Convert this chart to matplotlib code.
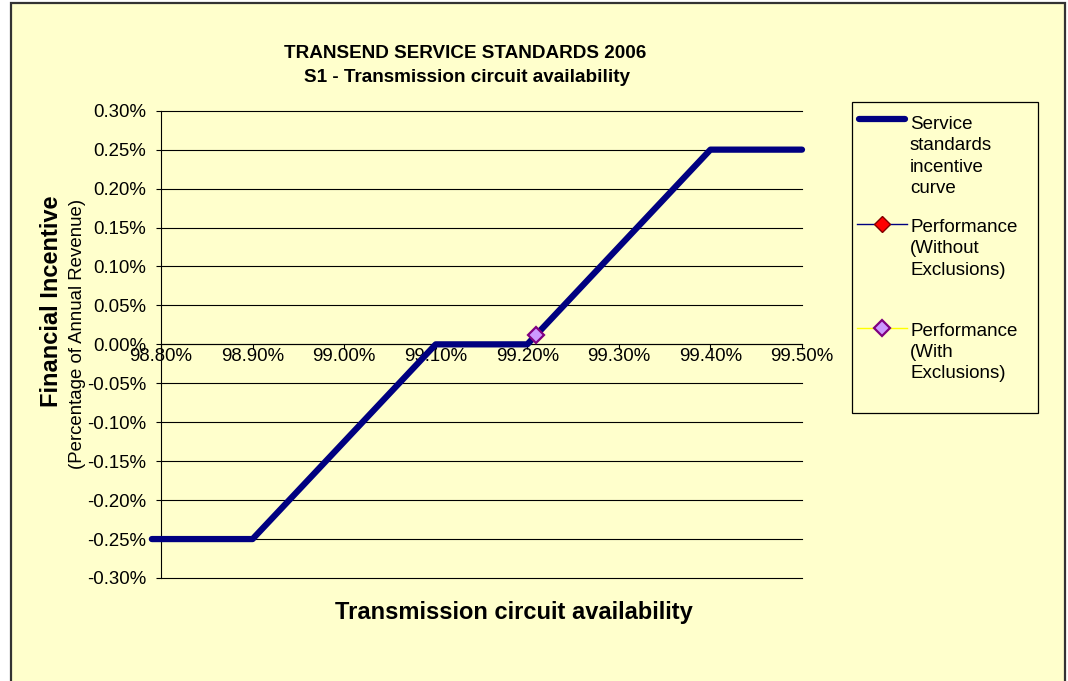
import matplotlib.pyplot as plt
import numpy as np
from matplotlib.patches import Rectangle
from matplotlib.lines import Line2D
from matplotlib.ticker import FuncFormatter

plt.rcParams['font.family'] = ['Liberation Sans', 'DejaVu Sans']

# incentive curve (availability %, incentive % of revenue)
curve_x = [98.79, 98.90, 99.10, 99.20, 99.40, 99.50]
curve_y = [-0.25, -0.25, 0.00, 0.00, 0.25, 0.25]

# performance points
perf_without_x = []
perf_without_y = []
perf_with_x = [99.209]
perf_with_y = [0.0115]

x_ticks = [98.80, 98.90, 99.00, 99.10, 99.20, 99.30, 99.40, 99.50]
y_ticks = [-0.30, -0.25, -0.20, -0.15, -0.10, -0.05, 0.00, 0.05, 0.10, 0.15, 0.20, 0.25, 0.30]

W, H = 1068, 681
fig = plt.figure(figsize=(W / 100, H / 100), dpi=100, facecolor='white')

# chart area background with frame (no bottom edge visible)
fig.patches.append(Rectangle((11 / W, -0.05), (1065 - 11) / W, (H - 3) / H + 0.05,
                             transform=fig.transFigure, facecolor='#FFFFCC',
                             edgecolor='#333333', linewidth=1.6, zorder=0))

ax = fig.add_axes([161 / W, (H - 578) / H, (802 - 161) / W, (578 - 110.7) / H])
ax.set_facecolor('none')
ax.set_zorder(3)

ax.plot(curve_x, curve_y, color='#000080', linewidth=4.5, solid_capstyle='round',
        clip_on=False, zorder=3)
ax.plot(perf_without_x, perf_without_y, color='#000080', linewidth=1, marker='D',
        markersize=8, markerfacecolor='#FF0000', markeredgecolor='#800000', zorder=4)
ax.plot(perf_with_x, perf_with_y, color='#FFFF00', linewidth=1, marker='D',
        markersize=8, markerfacecolor='#CC99FF', markeredgecolor='#800080',
        markeredgewidth=1.6, zorder=5, clip_on=False)

ax.set_xlim(98.80, 99.50)
ax.set_ylim(-0.30, 0.30)
ax.set_xticks(x_ticks)
ax.set_yticks(y_ticks)
pct = FuncFormatter(lambda v, p: '%.2f%%' % v)
ax.xaxis.set_major_formatter(pct)
ax.yaxis.set_major_formatter(pct)

ax.yaxis.grid(True, color='black', linewidth=0.8)
for gl in ax.get_ygridlines():
    gl.set_clip_on(False)
ax.set_axisbelow(True)
for s in ['top', 'right']:
    ax.spines[s].set_visible(False)
ax.spines['bottom'].set_position(('data', 0))
ax.spines['left'].set_linewidth(0.8)
ax.spines['bottom'].set_linewidth(0.8)
ax.tick_params(axis='y', direction='out', length=3.6, width=0.8, pad=7, labelsize=13.4)
ax.tick_params(axis='x', direction='out', length=3.6, width=0.8, pad=-1, labelsize=13.4)

fig.text(465 / W, 1 - 54 / H, 'TRANSEND SERVICE STANDARDS 2006', ha='center', va='center',
         fontsize=13.6, fontweight='bold')
fig.text(467 / W, 1 - 77 / H, 'S1 - Transmission circuit availability', ha='center', va='center',
         fontsize=13.6, fontweight='bold')
fig.text(514 / W, 1 - 613 / H, 'Transmission circuit availability', ha='center', va='center',
         fontsize=17, fontweight='bold')
fig.text(52 / W, 1 - 301 / H, 'Financial Incentive', ha='center', va='center', rotation=90,
         fontsize=17, fontweight='bold')
fig.text(78 / W, 1 - 334 / H, '(Percentage of Annual Revenue)', ha='center', va='center',
         rotation=90, fontsize=13.4)

# legend box drawn by hand so the handles sit on the first text line
fig.patches.append(Rectangle((852 / W, 1 - 413 / H), (1038 - 852) / W, (413 - 102) / H,
                             transform=fig.transFigure, facecolor='#FFFFCC',
                             edgecolor='black', linewidth=0.9, zorder=2))
fig.lines.append(Line2D([859 / W, 905 / W], [1 - 119 / H, 1 - 119 / H], transform=fig.transFigure,
                        color='#000080', linewidth=4.5, solid_capstyle='round', zorder=3))
fig.lines.append(Line2D([857 / W, 907 / W], [1 - 224 / H, 1 - 224 / H], transform=fig.transFigure,
                        color='#000080', linewidth=1, zorder=3))
fig.lines.append(Line2D([882 / W], [1 - 224 / H], transform=fig.transFigure, marker='D',
                        markersize=8, markerfacecolor='#FF0000', markeredgecolor='#800000',
                        zorder=4))
fig.lines.append(Line2D([857 / W, 907 / W], [1 - 328 / H, 1 - 328 / H], transform=fig.transFigure,
                        color='#FFFF00', linewidth=1, zorder=3))
fig.lines.append(Line2D([882 / W], [1 - 328 / H], transform=fig.transFigure, marker='D',
                        markersize=8, markerfacecolor='#CC99FF', markeredgecolor='#800080',
                        markeredgewidth=1.6, zorder=4))
legend_labels = ['Service\nstandards\nincentive\ncurve', 'Performance\n(Without\nExclusions)',
                 'Performance\n(With\nExclusions)']
legend_y = [156.5, 249, 352.5]
for lab, ly in zip(legend_labels, legend_y):
    fig.text(910 / W, 1 - ly / H, lab, ha='left', va='center', fontsize=13.5,
             linespacing=1.33, zorder=5)

fig.savefig('out.png', dpi=100, facecolor='white')
